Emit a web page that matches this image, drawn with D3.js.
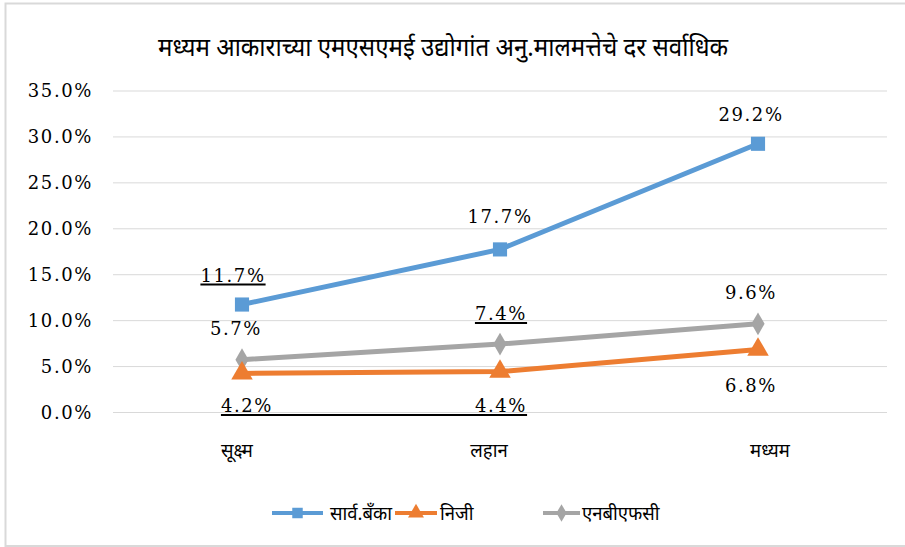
<!DOCTYPE html>
<html>
<head>
<meta charset="utf-8">
<script src="https://cdn.jsdelivr.net/npm/d3@7"></script>
<style>
  html, body { margin: 0; padding: 0; background: #fff; }
  svg { display: block; }
</style>
</head>
<body>
<svg id="chart" width="905" height="547"></svg>
<script>
// ---- data ----
const title = "मध्यम आकाराच्या एमएसएमई उद्योगांत अनु.मालमत्तेचे दर सर्वाधिक";
const categories = ["सूक्ष्म", "लहान", "मध्यम"];
const seriesNames = ["सार्व.बँका", "निजी", "एनबीएफसी"];
const publicBanks = [0.117, 0.177, 0.292];
const privateBanks = [0.042, 0.044, 0.068];
const nbfc = [0.057, 0.074, 0.096];
const yTicks = [0, 0.05, 0.10, 0.15, 0.20, 0.25, 0.30, 0.35];

const colors = ["#5B9BD5", "#ED7D31", "#A5A5A5"];
const shapes = [d3.symbolSquare, d3.symbolTriangle, d3.symbolDiamond];
const series = [publicBanks, privateBanks, nbfc].map((values, i) => ({
  name: seriesNames[i], values, color: colors[i], shape: shapes[i]
}));

// label placement relative to each point: [dx, dy to baseline, underlined]
const labelPlacement = [
  [[-9, -23, true], [0, -26, false], [-7, -23, false]],
  [[5, 38.5, false], [1, 40.5, false], [-7, 42, false]],
  [[-6, -25, false], [1, -24, true], [-7, -25, false]]
];

const svg = d3.select("#chart");
const W = 905, H = 547;
const serif = "'DejaVu Serif', 'Liberation Serif', serif";
const deva = "'Noto Sans Devanagari', 'Lohit Devanagari', 'FreeSans', 'Noto Sans', sans-serif";

// chart frame
svg.append("rect")
  .attr("x", 5.5).attr("y", 3.5).attr("width", W).attr("height", H - 4.5)
  .attr("fill", "#fff").attr("stroke", "#d9d9d9").attr("stroke-width", 2);

const x = d3.scalePoint().domain(categories).range([113, 887]).padding(0.5);
const y = d3.scaleLinear().domain([0, 0.35]).range([412, 90.5]);

// title
svg.append("text")
  .attr("x", 443).attr("y", 56)
  .attr("text-anchor", "middle")
  .attr("font-family", deva)
  .attr("font-size", 25)
  .attr("textLength", 570).attr("lengthAdjust", "spacingAndGlyphs")
  .attr("fill", "#000")
  .text(title);

// horizontal gridlines
const yAxis = d3.axisLeft(y).tickValues(yTicks).tickSize(-(887 - 113)).tickPadding(20)
  .tickFormat(d => (d * 100).toFixed(1) + "%");
const gy = svg.append("g").attr("transform", "translate(113,0)").call(yAxis);
gy.select(".domain").remove();
gy.selectAll(".tick line").attr("stroke", "#d9d9d9").attr("stroke-width", 1);
gy.selectAll(".tick text")
  .attr("font-family", serif).attr("font-size", 18).attr("fill", "#000")
  .attr("letter-spacing", "1.6px")
  .attr("dy", "0.35em");

// category labels
const catOffsets = [-5, -11, 12];
svg.append("g").selectAll("text").data(categories).join("text")
  .attr("x", (d, i) => x(d) + catOffsets[i]).attr("y", 457)
  .attr("text-anchor", "middle")
  .attr("font-family", deva).attr("font-size", 18.5).attr("fill", "#000")
  .text(d => d);

// lines and markers
const line = d3.line().x((d, i) => x(categories[i])).y(d => y(d));
const order = [2, 1, 0];
order.forEach(si => {
  const s = series[si];
  svg.append("path")
    .attr("d", line(s.values))
    .attr("fill", "none").attr("stroke", s.color)
    .attr("stroke-width", 5).attr("stroke-linejoin", "round").attr("stroke-linecap", "round");
  const size = si === 2 ? 150 : 200;
  svg.append("g").selectAll("path").data(s.values).join("path")
    .attr("transform", (d, i) => `translate(${x(categories[i])},${y(d)})`)
    .attr("d", d3.symbol().type(s.shape).size(size))
    .attr("fill", s.color);
});

// data labels
const labelNodes = [];
series.forEach((s, si) => {
  s.values.forEach((v, i) => {
    const [dx, dy, under] = labelPlacement[si][i];
    const t = svg.append("text")
      .attr("x", x(categories[i]) + dx).attr("y", y(v) + dy)
      .attr("text-anchor", "middle")
      .attr("font-family", serif).attr("font-size", 18).attr("fill", "#000")
      .attr("letter-spacing", "1.6px")
      .text((v * 100).toFixed(1) + "%");
    labelNodes.push({ si, i, node: t.node(), under });
  });
});
// underlines beneath some labels
labelNodes.forEach(l => {
  if (!l.under) return;
  const b = l.node.getBBox();
  svg.append("line")
    .attr("x1", b.x).attr("x2", b.x + b.width)
    .attr("y1", b.y + b.height - 1).attr("y2", b.y + b.height - 1)
    .attr("stroke", "#000").attr("stroke-width", 2);
});
// a long underline joining the first two private-bank labels
{
  const a = labelNodes.find(l => l.si === 1 && l.i === 0).node.getBBox();
  const b = labelNodes.find(l => l.si === 1 && l.i === 1).node.getBBox();
  svg.append("line")
    .attr("x1", a.x).attr("x2", b.x + b.width)
    .attr("y1", a.y + a.height - 1).attr("y2", a.y + a.height - 1)
    .attr("stroke", "#000").attr("stroke-width", 2);
}

// legend
const legendItems = [
  { x1: 272, x2: 323, tx: 330 },
  { x1: 395, x2: 437, tx: 440 },
  { x1: 543, x2: 580, tx: 582 }
];
const ly = 513;
const lg = svg.append("g");
series.forEach((s, i) => {
  const it = legendItems[i];
  lg.append("line").attr("x1", it.x1).attr("x2", it.x2).attr("y1", ly).attr("y2", ly)
    .attr("stroke", s.color).attr("stroke-width", 4);
  lg.append("path")
    .attr("transform", `translate(${(it.x1 + it.x2) / 2},${ly})`)
    .attr("d", d3.symbol().type(s.shape).size(i === 2 ? 90 : 110))
    .attr("fill", s.color);
  lg.append("text").attr("x", it.tx).attr("y", ly + 7)
    .attr("font-family", deva).attr("font-size", 18.5).attr("fill", "#000")
    .text(s.name);
});
</script>
</body>
</html>
